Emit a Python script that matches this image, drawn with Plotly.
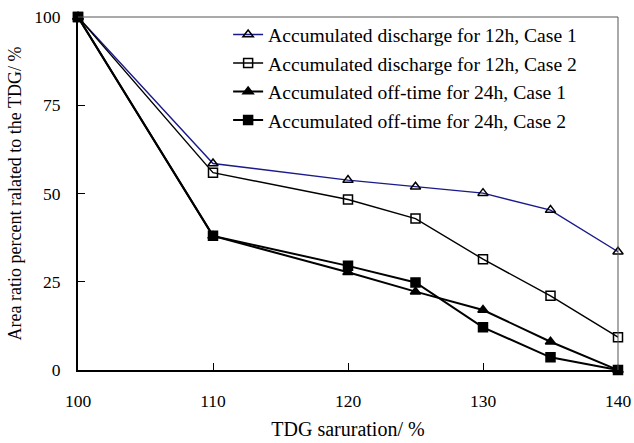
import plotly.graph_objects as go

tdg = [100, 110, 120, 125, 130, 135, 140]
discharge_case1 = [100, 58.5, 53.8, 51.9, 50.1, 45.3, 33.5]
discharge_case2 = [100, 55.9, 48.3, 42.9, 31.4, 21.0, 9.3]
offtime_case1 = [100, 38.0, 27.7, 22.2, 17.0, 8.0, 0]
offtime_case2 = [100, 38.0, 29.5, 24.8, 12.1, 3.6, 0]

names = [
    "Accumulated discharge for 12h, Case 1",
    "Accumulated discharge for 12h, Case 2",
    "Accumulated off-time for 24h, Case 1",
    "Accumulated off-time for 24h, Case 2",
]
series = [discharge_case1, discharge_case2, offtime_case1, offtime_case2]
colors = ["#1a1a8a", "#000000", "#000000", "#000000"]
symbols = ["triangle-up-open", "square-open", "triangle-up", "square"]
widths = [1.4, 1.4, 2.0, 2.0]

FONT = "Liberation Serif, Times New Roman, serif"

fig = go.Figure()
for i, (nm, ys) in enumerate(zip(names, series)):
    fig.add_trace(go.Scatter(
        x=tdg, y=ys, name=nm, mode="lines+markers",
        legendgroup=f"g{i}",
        line=dict(color=colors[i], width=widths[i]),
        marker=dict(symbol=symbols[i], size=9, color="#000000",
                    line=dict(color="#000000", width=1.5)),
        cliponaxis=False,
    ))

fig.update_layout(
    width=634, height=443,
    margin=dict(l=78, r=16, t=17, b=73, autoexpand=False),
    paper_bgcolor="white", plot_bgcolor="white",
    font=dict(family=FONT, size=17, color="#000000"),
    showlegend=True,
    legend=dict(
        x=0.278, y=1.005, xanchor="left", yanchor="top",
        bgcolor="rgba(0,0,0,0)", borderwidth=0,
        traceorder="grouped", tracegroupgap=0,
        font=dict(family=FONT, size=19.6),
    ),
    xaxis=dict(
        range=[100, 140], tickvals=[100, 110, 120, 130, 140],
        ticks="inside", ticklen=7, tickwidth=1, tickcolor="#000",
        showline=True, linecolor="#000", linewidth=2,
        showgrid=False, zeroline=False, ticklabelstandoff=14,
        automargin=False,
        tickfont=dict(family=FONT, size=17.5),
        title=dict(text="TDG saruration/ %", standoff=12,
                   font=dict(family=FONT, size=20)),
    ),
    yaxis=dict(
        range=[0, 100], tickvals=[0, 25, 50, 75, 100],
        ticks="inside", ticklen=7, tickwidth=1, tickcolor="#000",
        showline=True, linecolor="#000", linewidth=2,
        showgrid=False, zeroline=False, ticklabelstandoff=12,
        automargin=False,
        tickfont=dict(family=FONT, size=17.5),
        title=dict(text="Area ratio percent ralated to the TDG/ %", standoff=8,
                   font=dict(family=FONT, size=18)),
    ),
)
fig.add_shape(type="line", xref="paper", yref="paper", x0=0, x1=1, y0=1, y1=1,
              line=dict(color="#555", width=1))
fig.add_shape(type="line", xref="paper", yref="paper", x0=1, x1=1, y0=0, y1=1,
              line=dict(color="#555", width=1))

fig.write_html("out.html")
